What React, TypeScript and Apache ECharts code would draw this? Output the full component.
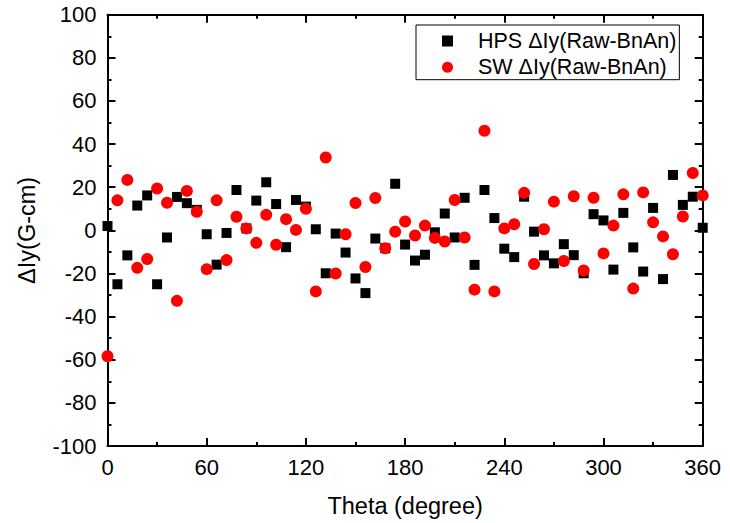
import React, { useEffect, useRef } from "react";
import * as echarts from "echarts";

const thetas = [
  0, 6, 12, 18, 24, 30, 36, 42, 48, 54, 60, 66, 72, 78, 84, 90, 96, 102, 108, 114,
  120, 126, 132, 138, 144, 150, 156, 162, 168, 174, 180, 186, 192, 198, 204, 210,
  216, 222, 228, 234, 240, 246, 252, 258, 264, 270, 276, 282, 288, 294, 300, 306,
  312, 318, 324, 330, 336, 342, 348, 354, 360,
];

const hpsValues = [
  2.0, -25.0, -11.6, 11.5, 16.2, -25.0, -3.3, 15.5, 12.6, 9.5, -1.8, -15.9, -1.2,
  18.7, 0.9, 13.8, 22.3, 12.2, -7.8, 14.1, 11.0, 0.5, -19.9, -1.5, -10.3, -22.3,
  -29.1, -3.8, -8.3, 21.6, -6.6, -14.0, -11.3, -0.9, 7.8, -3.3, 15.1, -16.0, 18.7,
  5.7, -8.5, -12.4, 15.6, -0.6, -11.6, -15.3, -6.4, -11.5, -19.9, 7.5, 4.6, -18.2,
  8.1, -7.9, -19.1, 10.4, -22.6, 25.7, 11.8, 15.6, 1.2,
];

const swValues = [
  -58.4, 13.9, 23.4, -17.4, -13.3, 19.4, 12.8, -32.7, 18.3, 8.6, -18.0, 13.9,
  -13.8, 6.3, 0.9, -5.8, 7.2, -6.7, 5.2, 0.2, 10.0, -28.3, 33.8, -20.0, -1.8, 12.7,
  -17.0, 15.0, -8.3, -0.6, 4.1, -2.4, 2.2, -3.5, -5.2, 14.1, -3.3, -27.5, 46.2,
  -28.3, 0.9, 2.8, 17.4, -15.6, 0.5, 13.3, -14.2, 15.8, -18.6, 15.1, -10.7, 2.2,
  16.7, -27.0, 17.6, 3.7, -2.8, -11.1, 6.4, 26.6, 16.2,
];

const seriesNames = ["HPS \u0394Iy(Raw-BnAn)", "SW \u0394Iy(Raw-BnAn)"];
const xTitle = "Theta (degree)";
const yTitle = "\u0394Iy(G-cm)";

const FONT = "'Liberation Sans', Arial, sans-serif";

export default function App() {
  const ref = useRef<HTMLDivElement>(null);
  useEffect(() => {
    document.body.style.margin = "0";
    if (!ref.current) return;
    const chart = echarts.init(ref.current, undefined, { renderer: "svg" });
    const axisLine = { show: true, onZero: false, lineStyle: { color: "#000", width: 2 } };
    const tick = { show: true, inside: true, length: 8, lineStyle: { color: "#000", width: 2 } };
    const minor = { show: true, splitNumber: 2, length: 4, lineStyle: { color: "#000", width: 2 } };
    const label = { color: "#000", fontSize: 22, fontFamily: FONT };
    const titleStyle = { color: "#000", fontSize: 23.5, fontFamily: FONT };
    chart.setOption({
      animation: false,
      backgroundColor: "#fff",
      grid: { left: 107.5, right: 27.3, top: 14.7, bottom: 72.3, containLabel: false },
      legend: {
        orient: "vertical",
        left: 416,
        top: 25,
        borderColor: "#000",
        borderWidth: 1,
        padding: [5, 3, 1.5, 26],
        itemGap: 4.2,
        itemWidth: 11,
        itemHeight: 11,
        textStyle: { color: "#000", fontSize: 21.5, fontFamily: FONT, padding: [0, 0, 0, 20] },
        data: seriesNames,
      },
      xAxis: [
        {
          type: "value",
          min: 0,
          max: 360,
          interval: 60,
          position: "bottom",
          axisLine,
          axisTick: tick,
          minorTick: minor,
          splitLine: { show: false },
          axisLabel: { ...label, margin: 10 },
          name: xTitle,
          nameLocation: "middle",
          nameGap: 48,
          nameTextStyle: titleStyle,
        },
        {
          type: "value",
          min: 0,
          max: 360,
          interval: 60,
          position: "top",
          axisLine,
          axisTick: tick,
          minorTick: minor,
          splitLine: { show: false },
          axisLabel: { show: false },
        },
      ],
      yAxis: [
        {
          type: "value",
          min: -100,
          max: 100,
          interval: 20,
          position: "left",
          axisLine,
          axisTick: tick,
          minorTick: minor,
          splitLine: { show: false },
          axisLabel: { ...label, margin: 11 },
          name: yTitle,
          nameLocation: "middle",
          nameGap: 69,
          nameTextStyle: titleStyle,
        },
        {
          type: "value",
          min: -100,
          max: 100,
          interval: 20,
          position: "right",
          axisLine,
          axisTick: tick,
          minorTick: minor,
          splitLine: { show: false },
          axisLabel: { show: false },
        },
      ],
      series: [
        {
          name: seriesNames[0],
          type: "scatter",
          symbol: "rect",
          symbolSize: 10,
          itemStyle: { color: "#000", opacity: 1 },
          data: thetas.map((t, i) => [t, hpsValues[i]]),
        },
        {
          name: seriesNames[1],
          type: "scatter",
          symbol: "circle",
          symbolSize: 12,
          itemStyle: { color: "#ff0000", opacity: 1 },
          data: thetas.map((t, i) => [t, swValues[i]]),
        },
      ],
    });
    return () => chart.dispose();
  }, []);
  return <div ref={ref} style={{ width: 730, height: 523 }} />;
}
